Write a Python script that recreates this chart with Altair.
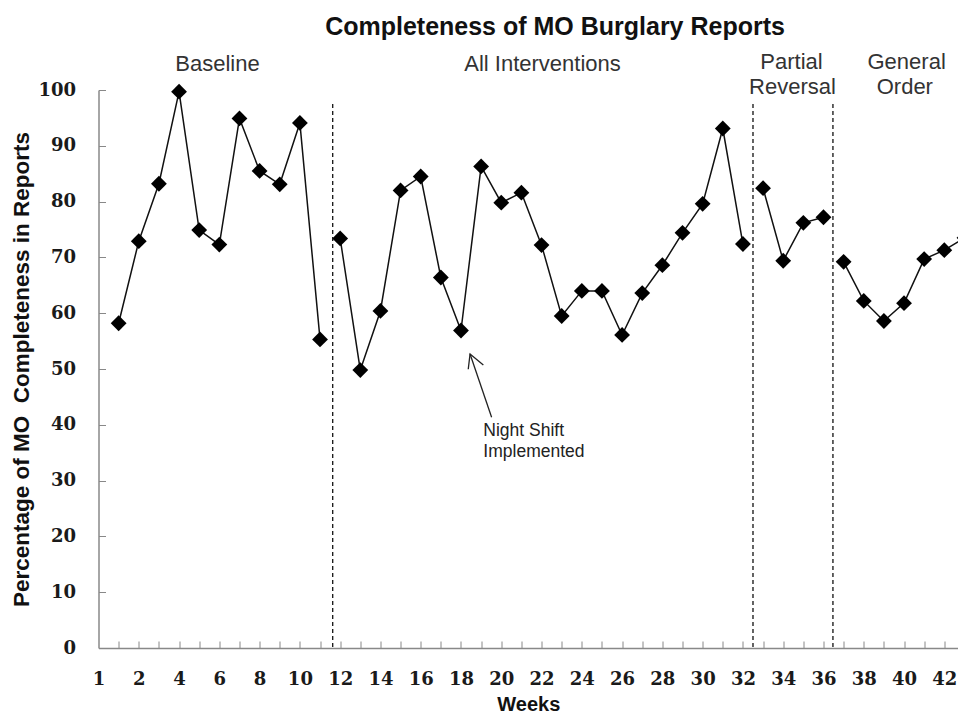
import altair as alt
import pandas as pd

# ---- data ----
weeks = list(range(1, 44))
completeness = [58.2, 72.9, 83.2, 99.7, 74.9, 72.3, 94.9, 85.5, 83.1, 94.1, 55.3,
                73.4, 49.8, 60.4, 82.0, 84.5, 66.4, 56.9, 86.3, 79.8, 81.6, 72.2,
                59.5, 64.0, 64.0, 56.1, 63.6, 68.6, 74.4, 79.6, 93.1, 72.4,
                82.4, 69.4, 76.2, 77.2,
                69.2, 62.2, 58.6, 61.8, 69.7, 71.3, 73.5]
phase_names = ["Baseline", "All Interventions", "Partial Reversal", "General Order"]
phase_last_week = [11, 32, 36, 43]

boundary_x = [11.63, 32.5, 36.47]
boundary_top = [97.5, 97.5, 97.5]

chart_title = "Completeness of MO Burglary Reports"
title_x = [22.67]
title_y = [111.3]

label_text = ["Baseline", "All Interventions", "Partial", "Reversal", "General", "Order"]
label_x = [5.91, 22.05, 34.41, 34.46, 40.13, 40.04]
label_y = [104.66, 104.66, 105.07, 100.6, 105.07, 100.6]

note_text = ["Night Shift", "Implemented"]
note_x = [19.11, 19.11]
note_y = [38.9, 35.1]

arrow_x = [19.52, 18.45, 18.36, 18.45, 19.11]
arrow_y = [41.34, 52.69, 49.95, 52.69, 50.72]
arrow_part = ["shaft", "shaft", "head", "head", "head"]
arrow_ord = [0, 1, 0, 1, 2]

x_label_values = list(range(0, 43, 2))
x_tick_values = list(range(1, 43))
y_values = list(range(0, 101, 10))

# ---- tables ----
phase = []
for w in weeks:
    for name, last in zip(phase_names, phase_last_week):
        if w <= last:
            phase.append(name)
            break
df = pd.DataFrame({"week": weeks, "pct": completeness, "phase": phase})
df_bound = pd.DataFrame({"x": boundary_x, "top": boundary_top, "bottom": [0] * len(boundary_x)})
df_title = pd.DataFrame({"x": title_x, "y": title_y, "t": [chart_title]})
df_lab = pd.DataFrame({"x": label_x, "y": label_y, "t": label_text})
df_note = pd.DataFrame({"x": note_x, "y": note_y, "t": note_text})
df_arrow = pd.DataFrame({"x": arrow_x, "y": arrow_y, "part": arrow_part, "ord": arrow_ord})

W = 859.5
H = 558
xs = alt.Scale(domain=[0, 42.68], nice=False, zero=False)
ys = alt.Scale(domain=[0, 100], nice=False, zero=True)
GRAY = "#888888"

x_main = alt.Axis(values=x_label_values, labelExpr="datum.value == 0 ? '1' : datum.label",
                  ticks=False, grid=False, domainColor=GRAY, domainWidth=1.5,
                  labelFont="DejaVu Serif", labelFontSize=18, labelFontWeight="bold",
                  labelColor="#1a1a1a",
                  labelPadding=31, labelBaseline="middle", labelFlush=False, labelOverlap=False,
                  title="Weeks", titleFont="Liberation Sans", titleFontSize=20,
                  titleFontWeight="bold", titleColor="#111111", titleY=62,
                  titleBaseline="alphabetic")
y_main = alt.Axis(values=y_values, ticks=False, grid=False, domainColor=GRAY, domainWidth=1.5,
                  labelFont="DejaVu Serif", labelFontSize=18, labelFontWeight="bold",
                  labelColor="#1a1a1a",
                  labelPadding=23,
                  title="Percentage of MO\u00a0 Completeness in Reports",
                  titleFont="Liberation Sans", titleFontSize=22.5, titleFontWeight="bold",
                  titleColor="#111111", titleX=-70, titleY=H / 2, titleAngle=270,
                  titleAlign="center", titleBaseline="alphabetic")
x_ticks = alt.Axis(orient="top", offset=-H, values=x_tick_values, labels=False, domain=False,
                   grid=False, tickColor=GRAY, tickSize=7, tickWidth=1, title=None)
y_ticks = alt.Axis(orient="right", offset=-W, values=y_values, labels=False, domain=False,
                   grid=False, tickColor=GRAY, tickSize=7, tickWidth=1, title=None)

line = alt.Chart(df).mark_line(color="#111111", strokeWidth=1.5).encode(
    x=alt.X("week:Q", scale=xs, axis=x_main),
    y=alt.Y("pct:Q", scale=ys, axis=y_main),
    detail="phase:N",
)
points = alt.Chart(df).mark_point(shape="diamond", filled=True, size=250, color="#000000",
                                  opacity=1).encode(
    x=alt.X("week:Q", scale=xs, axis=x_ticks),
    y=alt.Y("pct:Q", scale=ys, axis=y_ticks),
)
bounds = alt.Chart(df_bound).mark_rule(color="#111111", strokeWidth=1.3, strokeDash=[4, 3]).encode(
    x=alt.X("x:Q", scale=xs, axis=None),
    y=alt.Y("top:Q", scale=ys, axis=None),
    y2="bottom:Q",
)
title = alt.Chart(df_title).mark_text(font="Liberation Sans", fontSize=25, fontWeight="bold",
                                      color="#111111", align="center", baseline="middle").encode(
    x=alt.X("x:Q", scale=xs, axis=None),
    y=alt.Y("y:Q", scale=ys, axis=None),
    text="t:N",
)
labels = alt.Chart(df_lab).mark_text(font="Liberation Sans", fontSize=22, color="#333333",
                                     align="center", baseline="middle").encode(
    x=alt.X("x:Q", scale=xs, axis=None),
    y=alt.Y("y:Q", scale=ys, axis=None),
    text="t:N",
)
note = alt.Chart(df_note).mark_text(font="Liberation Sans", fontSize=17.5, color="#222222",
                                    align="left", baseline="middle").encode(
    x=alt.X("x:Q", scale=xs, axis=None),
    y=alt.Y("y:Q", scale=ys, axis=None),
    text="t:N",
)
arrow = alt.Chart(df_arrow).mark_line(color="#222222", strokeWidth=1.3).encode(
    x=alt.X("x:Q", scale=xs, axis=None),
    y=alt.Y("y:Q", scale=ys, axis=None),
    detail="part:N",
    order=alt.Order("ord:Q"),
)

chart = alt.layer(line, points, bounds, title, labels, note, arrow).resolve_axis(
    x="independent", y="independent"
).properties(
    width=W,
    height=H,
    autosize=alt.AutoSizeParams(type="none"),
    padding={"left": 90.5, "top": 82, "right": 0, "bottom": 67},
    background="white",
).configure_view(stroke=None)

chart.save("out.html", embed_options={"renderer": "svg", "actions": False})
